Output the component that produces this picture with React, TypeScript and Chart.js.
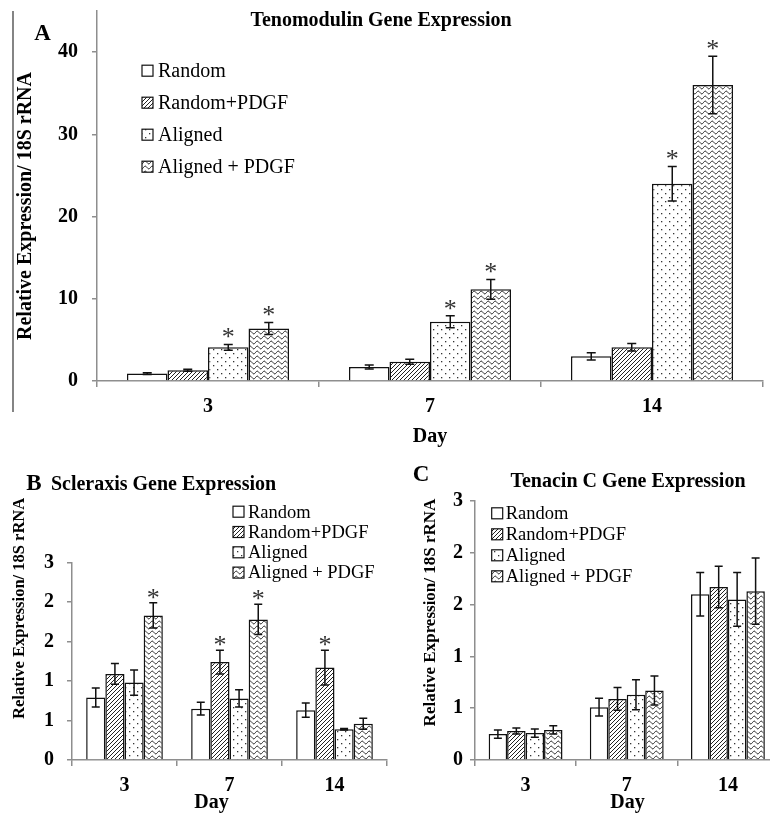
import React, { useEffect, useRef } from 'react';
import { Chart, registerables } from 'chart.js';

Chart.register(...registerables);

const SERIF = "'Liberation Serif', 'Times New Roman', serif";
const AXIS = '#8e8e8e';
const INK = '#111';

// ---------- shared ----------
const DAYS = ['3', '7', '14'];
const SERIES = ['Random', 'Random+PDGF', 'Aligned', 'Aligned + PDGF'];

// ---------- Panel A: Tenomodulin ----------
const A_RANDOM = [0.9, 1.7, 3.0];
const A_RANDOM_PDGF = [1.3, 2.35, 4.1];
const A_ALIGNED = [4.1, 7.2, 24.0];
const A_ALIGNED_PDGF = [6.4, 11.15, 36.0];
const A_ERR_RANDOM = [0.1, 0.25, 0.45];
const A_ERR_RANDOM_PDGF = [0.12, 0.3, 0.45];
const A_ERR_ALIGNED = [0.35, 0.73, 2.1];
const A_ERR_ALIGNED_PDGF = [0.73, 1.2, 3.5];
const A_SIG_RANDOM = [false, false, false];
const A_SIG_RANDOM_PDGF = [false, false, false];
const A_SIG_ALIGNED = [true, true, true];
const A_SIG_ALIGNED_PDGF = [true, true, true];
const A_TICKS = [0, 10, 20, 30, 40];
const A_TICK_LABELS = ['0', '10', '20', '30', '40'];
const A_MAX = 45;

// ---------- Panel B: Scleraxis ----------
const B_RANDOM = [0.79, 0.65, 0.63];
const B_RANDOM_PDGF = [1.09, 1.24, 1.17];
const B_ALIGNED = [0.98, 0.78, 0.39];
const B_ALIGNED_PDGF = [1.83, 1.78, 0.46];
const B_ERR_RANDOM = [0.12, 0.08, 0.09];
const B_ERR_RANDOM_PDGF = [0.13, 0.15, 0.22];
const B_ERR_ALIGNED = [0.16, 0.11, 0.01];
const B_ERR_ALIGNED_PDGF = [0.16, 0.19, 0.07];
const B_SIG_RANDOM = [false, false, false];
const B_SIG_RANDOM_PDGF = [false, true, true];
const B_SIG_ALIGNED = [false, false, false];
const B_SIG_ALIGNED_PDGF = [true, true, false];

// ---------- Panel C: Tenacin C ----------
const C_RANDOM = [0.25, 0.51, 1.6];
const C_RANDOM_PDGF = [0.28, 0.59, 1.67];
const C_ALIGNED = [0.26, 0.63, 1.55];
const C_ALIGNED_PDGF = [0.29, 0.67, 1.63];
const C_ERR_RANDOM = [0.04, 0.085, 0.21];
const C_ERR_RANDOM_PDGF = [0.03, 0.11, 0.2];
const C_ERR_ALIGNED = [0.04, 0.145, 0.26];
const C_ERR_ALIGNED_PDGF = [0.04, 0.14, 0.32];
const C_SIG = [false, false, false];

const BC_TICKS = [0, 0.5, 1, 1.5, 2, 2.5];
const BC_TICK_LABELS = ['0', '1', '1', '2', '2', '3'];
const BC_MAX = 2.5;

const Y_TITLE = 'Relative Expression/ 18S rRNA';
const X_TITLE = 'Day';

type TextItem = { text: string; x: number; y: number; font: string; rotate?: boolean };
type LegendCfg = { boxX: number; textX: number; y0: number; step: number; size: number; font: string };
type PanelCfg = {
  left: number; top: number; w: number; h: number;
  yWidth: number; xHeight: number; padTop: number; padRight: number;
  yMax: number; yTicks: number[]; yTickLabels: string[]; yTickPad: number;
  values: number[][]; errors: number[][]; sig: boolean[][];
  cap: number; starSize: number; starGap: number;
  texts: TextItem[]; legend: LegendCfg; lines?: number[][];
};

function makeFills(): (string | CanvasPattern)[] {
  const tmp = document.createElement('canvas').getContext('2d')!;
  // diagonal hatch
  const h = document.createElement('canvas');
  h.width = 4; h.height = 4;
  const hg = h.getContext('2d')!;
  hg.fillStyle = '#fff'; hg.fillRect(0, 0, 4, 4);
  hg.strokeStyle = '#222'; hg.lineWidth = 1;
  hg.beginPath();
  hg.moveTo(-1, 5); hg.lineTo(5, -1);
  hg.moveTo(-1, 1); hg.lineTo(1, -1);
  hg.moveTo(3, 5); hg.lineTo(5, 3);
  hg.stroke();
  // dots
  const d = document.createElement('canvas');
  d.width = 8; d.height = 8;
  const dg = d.getContext('2d')!;
  dg.fillStyle = '#fff'; dg.fillRect(0, 0, 8, 8);
  dg.fillStyle = '#333';
  dg.fillRect(1, 1, 1.3, 1.3);
  dg.fillRect(5, 5, 1.3, 1.3);
  // waves
  const WW = 7, WH = 5;
  const wv = document.createElement('canvas');
  wv.width = WW; wv.height = WH;
  const wg = wv.getContext('2d')!;
  wg.fillStyle = '#fff'; wg.fillRect(0, 0, WW, WH);
  wg.strokeStyle = '#1a1a1a'; wg.lineWidth = 1;
  for (const off of [-WH, 0, WH]) {
    wg.beginPath();
    for (let x = -1; x <= WW + 1; x += 0.5) {
      const y = 2.5 + off + 1.4 * Math.sin((2 * Math.PI * x) / WW);
      if (x === -1) wg.moveTo(x, y); else wg.lineTo(x, y);
    }
    wg.stroke();
  }
  return [
    '#ffffff',
    tmp.createPattern(h, 'repeat')!,
    tmp.createPattern(d, 'repeat')!,
    tmp.createPattern(wv, 'repeat')!,
  ];
}

function makePlugin(cfg: PanelCfg, fills: (string | CanvasPattern)[]) {
  return {
    id: 'annot',
    afterDatasetsDraw(chart: any) {
      const ctx: CanvasRenderingContext2D = chart.ctx;
      const ys = chart.scales.y;
      cfg.errors.forEach((errs, i) => {
        const meta = chart.getDatasetMeta(i);
        const vals = chart.data.datasets[i].data as number[];
        meta.data.forEach((el: any, j: number) => {
          const v = vals[j];
          const e = errs[j];
          const x = el.x;
          const yt = ys.getPixelForValue(v + e);
          const yb = ys.getPixelForValue(v - e);
          ctx.save();
          ctx.strokeStyle = INK;
          ctx.lineWidth = 1.5;
          ctx.beginPath();
          ctx.moveTo(x, yt); ctx.lineTo(x, yb);
          ctx.moveTo(x - cfg.cap, yt); ctx.lineTo(x + cfg.cap, yt);
          ctx.moveTo(x - cfg.cap, yb); ctx.lineTo(x + cfg.cap, yb);
          ctx.stroke();
          if (cfg.sig[i][j]) {
            ctx.fillStyle = '#333';
            ctx.font = `${cfg.starSize}px ${SERIF}`;
            ctx.textAlign = 'center';
            ctx.textBaseline = 'alphabetic';
            const cy = yt - cfg.starGap;
            ctx.fillText('*', x, cy + 0.49 * cfg.starSize);
          }
          ctx.restore();
        });
      });
    },
    afterDraw(chart: any) {
      const ctx: CanvasRenderingContext2D = chart.ctx;
      ctx.save();
      ctx.fillStyle = '#000';
      for (const t of cfg.texts) {
        ctx.save();
        ctx.font = t.font;
        ctx.textAlign = 'center';
        ctx.textBaseline = 'middle';
        ctx.translate(t.x, t.y);
        if (t.rotate) ctx.rotate(-Math.PI / 2);
        ctx.fillText(t.text, 0, 0);
        ctx.restore();
      }
      const lg = cfg.legend;
      SERIES.forEach((s, i) => {
        const yc = lg.y0 + i * lg.step;
        ctx.fillStyle = fills[i] as any;
        ctx.fillRect(lg.boxX, yc - lg.size / 2, lg.size, lg.size);
        ctx.strokeStyle = INK;
        ctx.lineWidth = 1.2;
        ctx.strokeRect(lg.boxX, yc - lg.size / 2, lg.size, lg.size);
        ctx.fillStyle = '#000';
        ctx.font = lg.font;
        ctx.textAlign = 'left';
        ctx.textBaseline = 'middle';
        ctx.fillText(s, lg.textX, yc + 1);
      });
      if (cfg.lines) {
        ctx.strokeStyle = '#333';
        ctx.lineWidth = 1.2;
        for (const l of cfg.lines) {
          ctx.beginPath();
          ctx.moveTo(l[0], l[1]);
          ctx.lineTo(l[2], l[3]);
          ctx.stroke();
        }
      }
      ctx.restore();
    },
  };
}

function buildChart(canvas: HTMLCanvasElement, cfg: PanelCfg, fills: (string | CanvasPattern)[]) {
  const tickFont = { family: SERIF, size: 20, weight: 'bold' as const };
  return new Chart(canvas, {
    type: 'bar',
    data: {
      labels: DAYS,
      datasets: SERIES.map((s, i) => ({
        label: s,
        data: cfg.values[i],
        backgroundColor: fills[i] as any,
        borderColor: INK,
        borderWidth: 1.5,
        categoryPercentage: 0.73,
        barPercentage: 1,
      })),
    },
    options: {
      responsive: false,
      animation: false,
      layout: { padding: { left: 0, top: cfg.padTop, right: cfg.padRight, bottom: 0 } },
      plugins: { legend: { display: false }, tooltip: { enabled: false }, title: { display: false } },
      scales: {
        x: {
          grid: { drawOnChartArea: false, drawTicks: true, tickLength: 6, color: AXIS, lineWidth: 1.5, offset: true },
          border: { color: AXIS, width: 1.5 },
          ticks: { color: '#000', font: tickFont, padding: 8, maxRotation: 0, autoSkip: false },
          afterFit: (s: any) => {
            s.height = cfg.xHeight;
            s.paddingLeft = 0; s.paddingRight = 0;
          },
        },
        y: {
          min: 0,
          max: cfg.yMax,
          grid: { drawOnChartArea: false, drawTicks: true, tickLength: 5, color: AXIS, lineWidth: 1.5 },
          border: { color: AXIS, width: 1.5 },
          ticks: {
            color: '#000',
            font: tickFont,
            padding: cfg.yTickPad,
            autoSkip: false,
            callback: (_v: any, idx: number) => cfg.yTickLabels[idx],
          },
          afterBuildTicks: (s: any) => { s.ticks = cfg.yTicks.map((v) => ({ value: v })); },
          afterFit: (s: any) => {
            s.width = cfg.yWidth;
            s.paddingTop = 0; s.paddingBottom = 0;
          },
        },
      },
    },
    plugins: [makePlugin(cfg, fills)],
  });
}

const PANEL_A: PanelCfg = {
  left: 0, top: 0, w: 770, h: 450,
  yWidth: 97, xHeight: 69, padTop: 11, padRight: 7,
  yMax: A_MAX, yTicks: A_TICKS, yTickLabels: A_TICK_LABELS, yTickPad: 14,
  values: [A_RANDOM, A_RANDOM_PDGF, A_ALIGNED, A_ALIGNED_PDGF],
  errors: [A_ERR_RANDOM, A_ERR_RANDOM_PDGF, A_ERR_ALIGNED, A_ERR_ALIGNED_PDGF],
  sig: [A_SIG_RANDOM, A_SIG_RANDOM_PDGF, A_SIG_ALIGNED, A_SIG_ALIGNED_PDGF],
  cap: 4.5, starSize: 26, starGap: 12,
  texts: [
    { text: 'A', x: 42.5, y: 34, font: `bold 23px ${SERIF}` },
    { text: 'Tenomodulin Gene Expression', x: 381, y: 21, font: `bold 20px ${SERIF}` },
    { text: Y_TITLE, x: 26, y: 206, font: `bold 20px ${SERIF}`, rotate: true },
    { text: X_TITLE, x: 430, y: 437, font: `bold 20px ${SERIF}` },
  ],
  legend: { boxX: 142, textX: 158, y0: 70.7, step: 32, size: 11, font: `20px ${SERIF}` },
  lines: [[13, 11, 13, 412]],
};

const PANEL_B: PanelCfg = {
  left: 0, top: 450, w: 390, h: 364,
  yWidth: 72, xHeight: 54, padTop: 112.5, padRight: 3,
  yMax: BC_MAX, yTicks: BC_TICKS, yTickLabels: BC_TICK_LABELS, yTickPad: 13,
  values: [B_RANDOM, B_RANDOM_PDGF, B_ALIGNED, B_ALIGNED_PDGF],
  errors: [B_ERR_RANDOM, B_ERR_RANDOM_PDGF, B_ERR_ALIGNED, B_ERR_ALIGNED_PDGF],
  sig: [B_SIG_RANDOM, B_SIG_RANDOM_PDGF, B_SIG_ALIGNED, B_SIG_ALIGNED_PDGF],
  cap: 4, starSize: 26, starGap: 10,
  texts: [
    { text: 'B', x: 34, y: 34, font: `bold 23px ${SERIF}` },
    { text: 'Scleraxis Gene Expression', x: 163.5, y: 35, font: `bold 20px ${SERIF}` },
    { text: Y_TITLE, x: 19.7, y: 158.4, font: `bold 16.5px ${SERIF}`, rotate: true },
    { text: X_TITLE, x: 211.5, y: 353, font: `bold 20px ${SERIF}` },
  ],
  legend: { boxX: 233, textX: 248, y0: 61.7, step: 20.3, size: 11, font: `18.5px ${SERIF}` },
};

const PANEL_C: PanelCfg = {
  left: 385, top: 450, w: 400, h: 364,
  yWidth: 90, xHeight: 54, padTop: 51, padRight: 6.5,
  yMax: BC_MAX, yTicks: BC_TICKS, yTickLabels: BC_TICK_LABELS, yTickPad: 7,
  values: [C_RANDOM, C_RANDOM_PDGF, C_ALIGNED, C_ALIGNED_PDGF],
  errors: [C_ERR_RANDOM, C_ERR_RANDOM_PDGF, C_ERR_ALIGNED, C_ERR_ALIGNED_PDGF],
  sig: [C_SIG, C_SIG, C_SIG, C_SIG],
  cap: 4, starSize: 26, starGap: 10,
  texts: [
    { text: 'C', x: 36, y: 25, font: `bold 23px ${SERIF}` },
    { text: 'Tenacin C Gene Expression', x: 243, y: 32, font: `bold 20px ${SERIF}` },
    { text: Y_TITLE, x: 45.5, y: 162.5, font: `bold 17px ${SERIF}`, rotate: true },
    { text: X_TITLE, x: 242.5, y: 353, font: `bold 20px ${SERIF}` },
  ],
  legend: { boxX: 106.7, textX: 120.7, y0: 63.3, step: 21, size: 11, font: `18.5px ${SERIF}` },
};

const PANELS = [PANEL_A, PANEL_B, PANEL_C];

export default function App() {
  const refs = [useRef<HTMLCanvasElement>(null), useRef<HTMLCanvasElement>(null), useRef<HTMLCanvasElement>(null)];
  useEffect(() => {
    const fills = makeFills();
    const charts = PANELS.map((p, i) => buildChart(refs[i].current!, p, fills));
    return () => charts.forEach((c) => c.destroy());
  }, []);
  return (
    <div style={{ position: 'fixed', left: 0, top: 0, width: 770, height: 814, overflow: 'hidden', background: '#fff' }}>
      {PANELS.map((p, i) => (
        <canvas
          key={i}
          ref={refs[i]}
          width={p.w}
          height={p.h}
          style={{ position: 'absolute', left: p.left, top: p.top, width: p.w, height: p.h }}
        />
      ))}
    </div>
  );
}
